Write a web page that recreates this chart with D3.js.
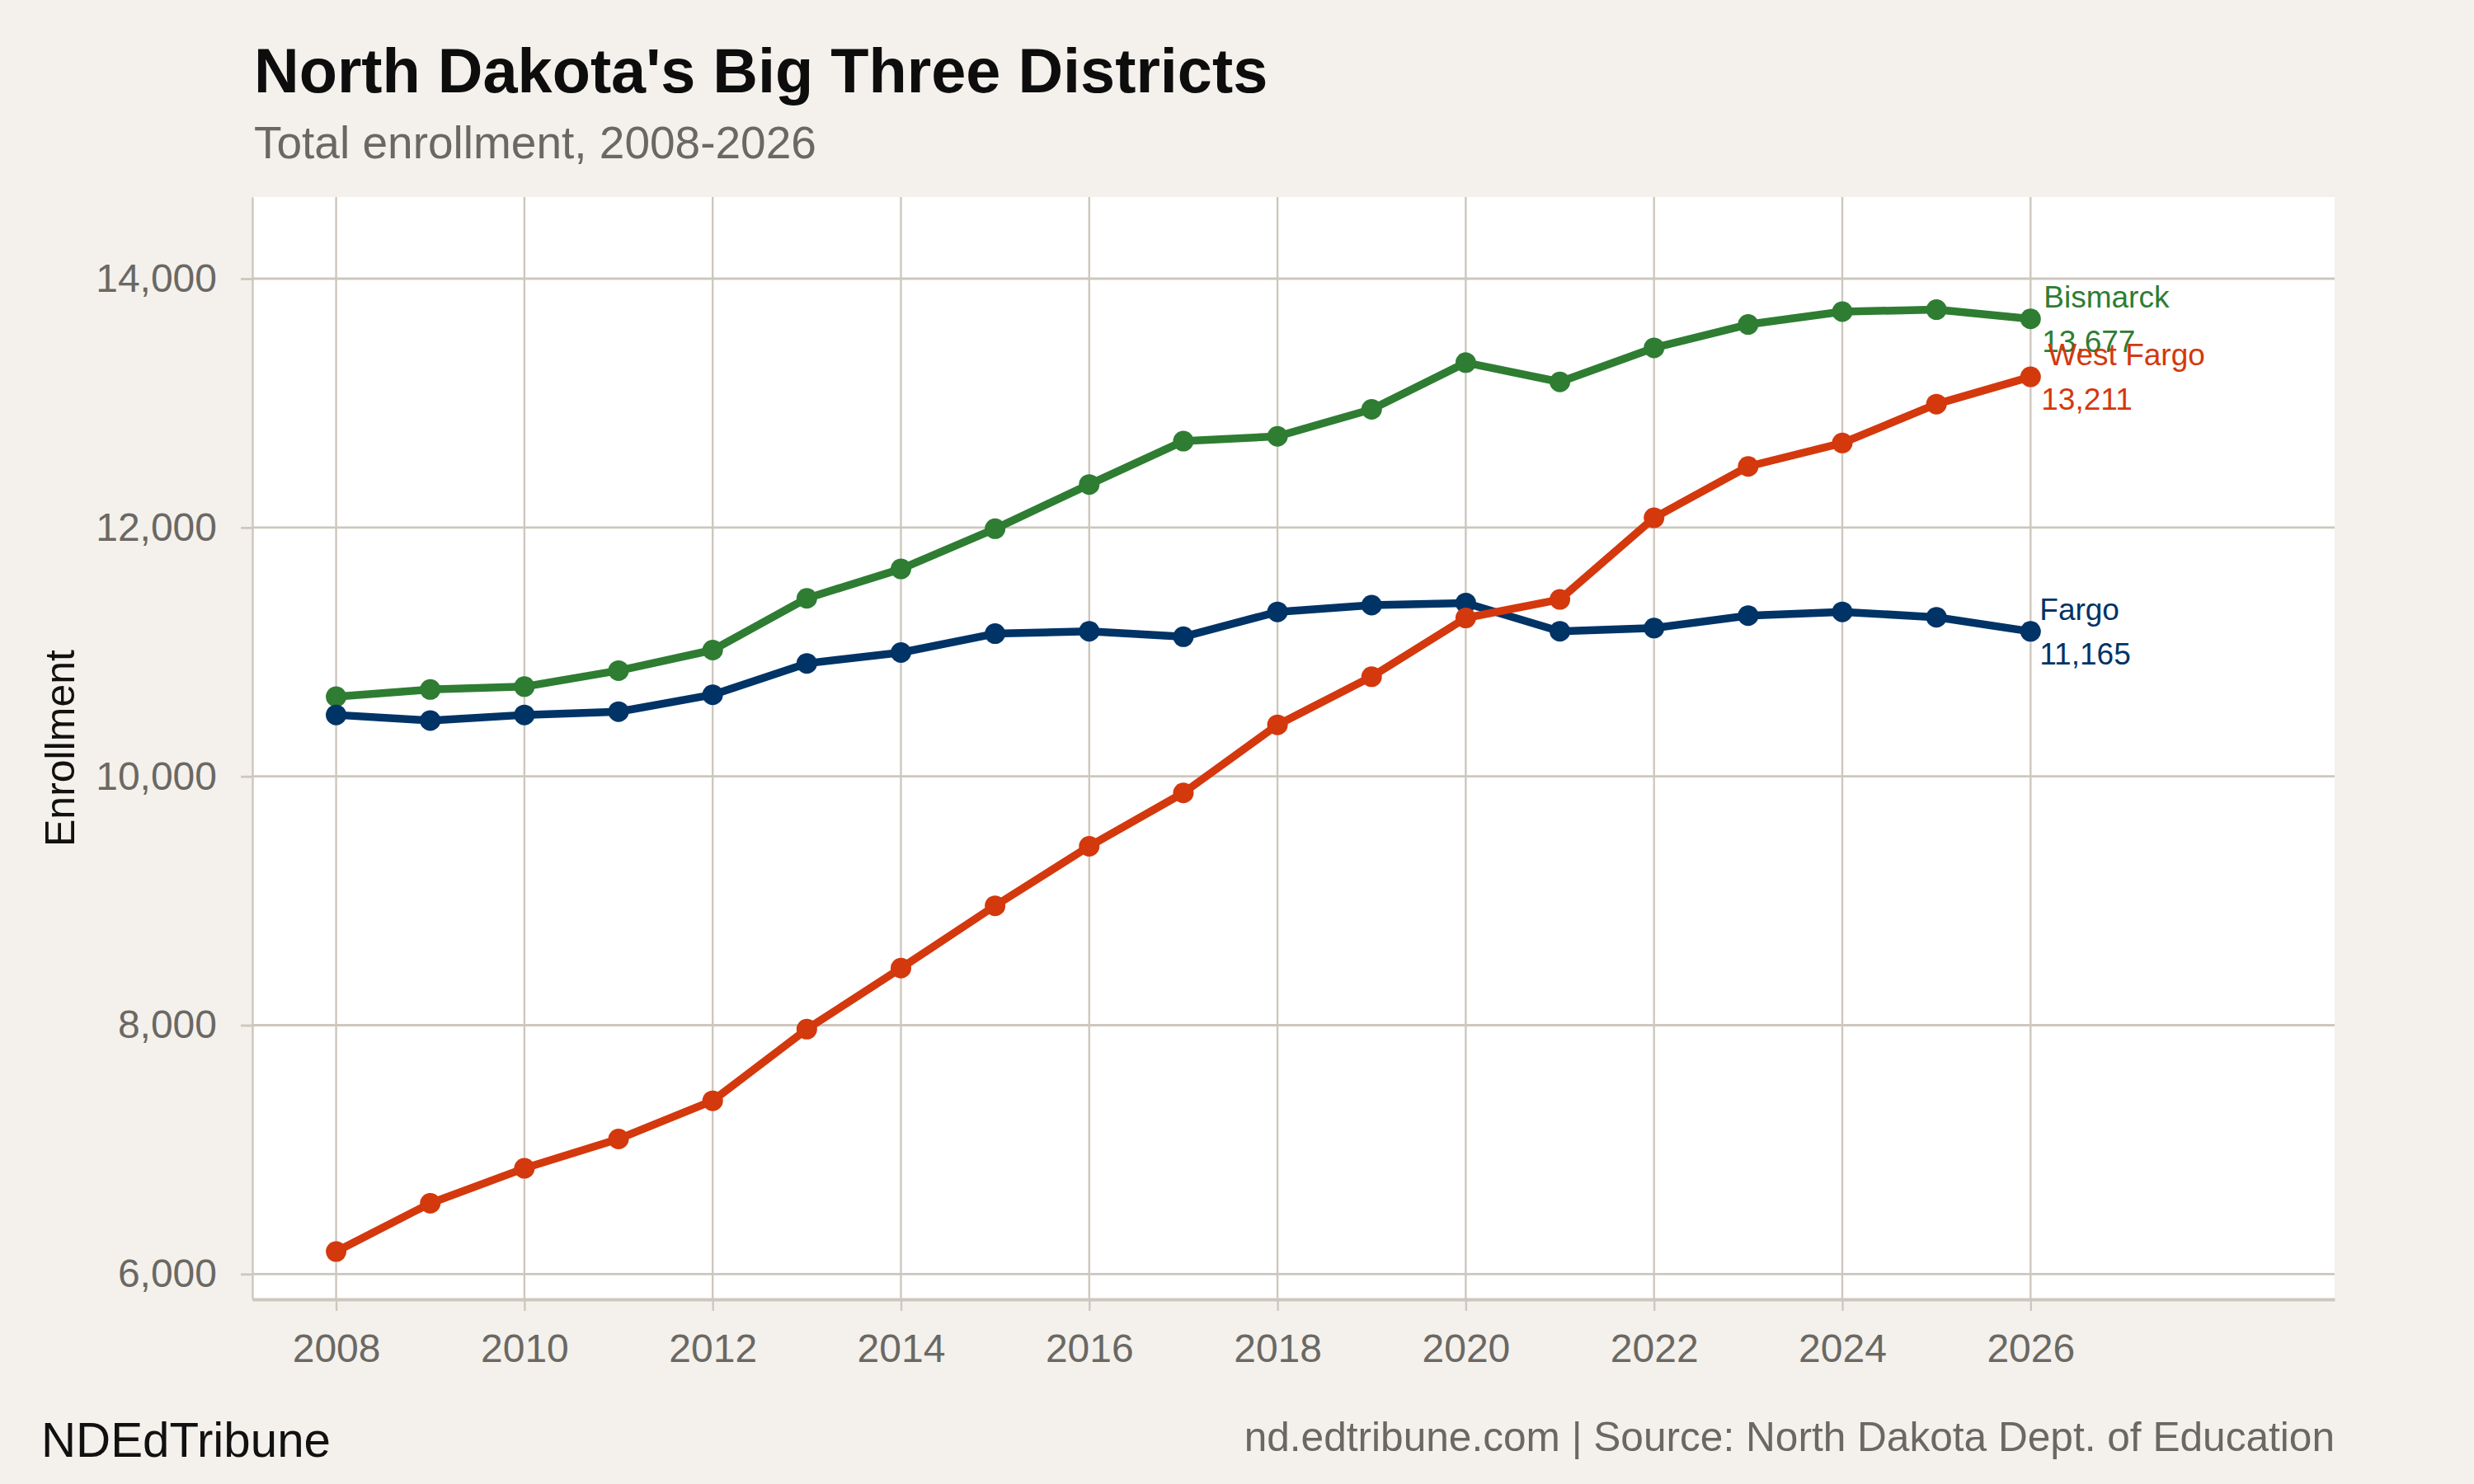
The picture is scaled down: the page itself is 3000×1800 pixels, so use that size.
<!DOCTYPE html>
<html>
<head>
<meta charset="utf-8">
<script src="https://cdn.jsdelivr.net/npm/d3@7"></script>
<style>
  body { margin: 0; background: #f4f1ec; }
  svg { display: block; font-family: "Liberation Sans", Arial, Helvetica, sans-serif; }
</style>
</head>
<body>
<svg id="chart"></svg>
<script>
// enrollment by school year
var years = [2008, 2009, 2010, 2011, 2012, 2013, 2014, 2015, 2016, 2017,
             2018, 2019, 2020, 2021, 2022, 2023, 2024, 2025, 2026];
var bismarck  = [10640, 10698, 10721, 10850, 11015, 11431, 11667, 11990, 12346, 12694,
                 12733, 12950, 13325, 13170, 13444, 13632, 13735, 13751, 13677];
var fargo     = [10494, 10449, 10494, 10520, 10656, 10908, 10995, 11147, 11166, 11122,
                 11322, 11376, 11393, 11166, 11192, 11292, 11322, 11279, 11165];
var westFargo = [6181, 6569, 6850, 7086, 7393, 7968, 8459, 8960, 9438, 9867,
                 10414, 10801, 11273, 11422, 12078, 12491, 12679, 12992, 13211];

var seriesNames = ['Bismarck', 'Fargo', 'West Fargo'];
var seriesValues = [bismarck, fargo, westFargo];
var seriesColors = ['#2e7d32', '#003366', '#d4380d'];

var xTicks = [2008, 2010, 2012, 2014, 2016, 2018, 2020, 2022, 2024, 2026];
var yTicks = [6000, 8000, 10000, 12000, 14000];

var width = 3000, height = 1800;
var panel = {left: 306, right: 2831, top: 239, bottom: 1576};
var grid = '#cdc7be';
var gray = '#6b6863';

var svg = d3.select('#chart')
    .attr('width', width)
    .attr('height', height);

svg.append('rect')
    .attr('width', width).attr('height', height)
    .attr('fill', '#f4f1ec');

var x = d3.scaleLinear().domain([2007.11, 2029.23]).range([panel.left, panel.right]);
var y = d3.scaleLinear().domain([5797, 14656]).range([panel.bottom, panel.top]);

// panel
svg.append('rect')
    .attr('x', panel.left).attr('y', panel.top)
    .attr('width', panel.right - panel.left)
    .attr('height', panel.bottom - panel.top)
    .attr('fill', '#ffffff');

// gridlines
svg.append('g')
    .selectAll('line').data(xTicks).enter().append('line')
    .attr('x1', function(d){ return x(d); }).attr('x2', function(d){ return x(d); })
    .attr('y1', panel.top).attr('y2', panel.bottom)
    .attr('stroke', grid).attr('stroke-width', 2.4);

svg.append('g')
    .selectAll('line').data(yTicks).enter().append('line')
    .attr('x1', panel.left).attr('x2', panel.right)
    .attr('y1', function(d){ return y(d); }).attr('y2', function(d){ return y(d); })
    .attr('stroke', grid).attr('stroke-width', 2.8);

// axes
var xAxis = svg.append('g')
    .attr('transform', 'translate(0,' + panel.bottom + ')')
    .call(d3.axisBottom(x).tickValues(xTicks).tickFormat(d3.format('d'))
        .tickSize(14).tickSizeOuter(0).tickPadding(28));

var yAxis = svg.append('g')
    .attr('transform', 'translate(' + panel.left + ',0)')
    .call(d3.axisLeft(y).tickValues(yTicks).tickFormat(d3.format(','))
        .tickSize(14).tickSizeOuter(0).tickPadding(29));

xAxis.select('.domain').attr('stroke', grid).attr('stroke-width', 4);
yAxis.select('.domain').attr('stroke', grid).attr('stroke-width', 2.4);
xAxis.selectAll('.tick line').attr('stroke', grid).attr('stroke-width', 2.4);
yAxis.selectAll('.tick line').attr('stroke', grid).attr('stroke-width', 2.8);
svg.selectAll('.tick text')
    .attr('fill', gray)
    .attr('font-size', 48)
    .attr('font-family', '"Liberation Sans", Arial, sans-serif');

// lines and points
var line = d3.line()
    .x(function(d){ return x(d.year); })
    .y(function(d){ return y(d.value); });

seriesValues.forEach(function(vals, i){
    var pts = years.map(function(yr, j){ return {year: yr, value: vals[j]}; });
    var g = svg.append('g');
    g.append('path')
        .datum(pts)
        .attr('d', line)
        .attr('fill', 'none')
        .attr('stroke', seriesColors[i])
        .attr('stroke-width', 9.5)
        .attr('stroke-linejoin', 'round');
    g.selectAll('circle').data(pts).enter().append('circle')
        .attr('cx', function(d){ return x(d.year); })
        .attr('cy', function(d){ return y(d.value); })
        .attr('r', 12.5)
        .attr('fill', seriesColors[i]);
});

// end labels (name over value, right of the last point)
var nameDx = [16, 11, 21];
var valueDx = [14, 11, 13];
seriesValues.forEach(function(vals, i){
    var last = vals[vals.length - 1];
    var px = x(years[years.length - 1]), py = y(last);
    var t = svg.append('text')
        .attr('fill', seriesColors[i])
        .attr('font-size', 37);
    t.append('tspan')
        .attr('x', px + nameDx[i]).attr('y', py - 14)
        .text(seriesNames[i]);
    t.append('tspan')
        .attr('x', px + valueDx[i]).attr('y', py + 40)
        .text(d3.format(',')(last));
});

// titles
svg.append('text')
    .attr('x', 308).attr('y', 112)
    .attr('font-size', 75.7).attr('font-weight', 'bold')
    .attr('fill', '#0d0d0d')
    .text("North Dakota's Big Three Districts");

svg.append('text')
    .attr('x', 308).attr('y', 192)
    .attr('font-size', 55)
    .attr('fill', gray)
    .text('Total enrollment, 2008-2026');

svg.append('text')
    .attr('transform', 'translate(90,' + ((panel.top + panel.bottom) / 2) + ') rotate(-90)')
    .attr('text-anchor', 'middle')
    .attr('font-size', 50)
    .attr('fill', '#111111')
    .text('Enrollment');

// footer
svg.append('text')
    .attr('x', 50).attr('y', 1767)
    .attr('font-size', 58.3)
    .attr('fill', '#111111')
    .text('NDEdTribune');

svg.append('text')
    .attr('x', panel.right).attr('y', 1760)
    .attr('text-anchor', 'end')
    .attr('font-size', 49.6)
    .attr('fill', gray)
    .text('nd.edtribune.com | Source: North Dakota Dept. of Education');
</script>
</body>
</html>
